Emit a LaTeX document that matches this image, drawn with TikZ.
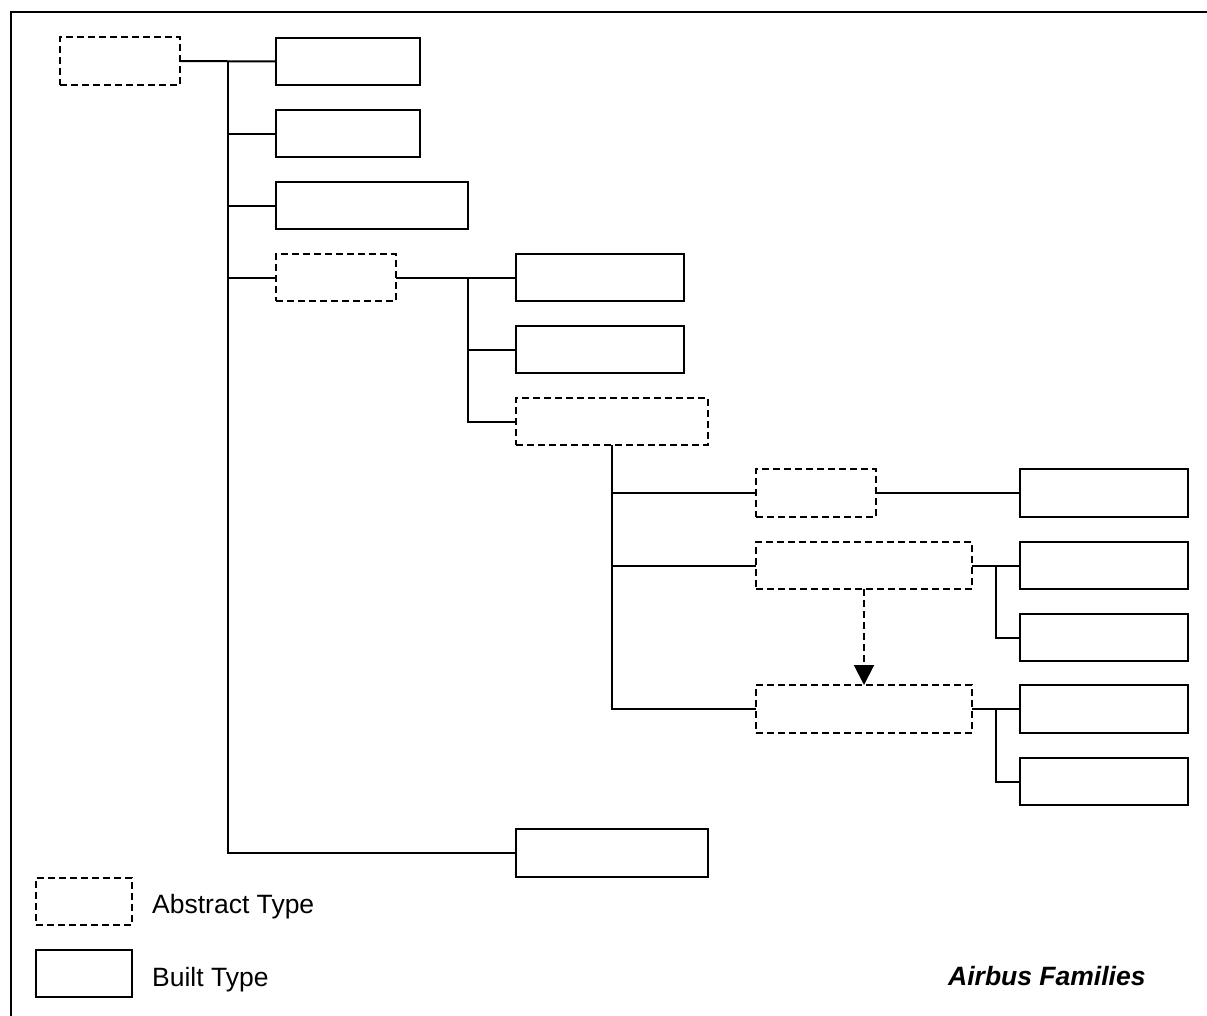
\documentclass[tikz,border=0pt]{standalone}
\usepackage{fontspec}
\setmainfont{Liberation Sans}
\usetikzlibrary{arrows.meta}
\tikzset{
  absbox/.style={draw, dash pattern=on 7pt off 4pt, line width=1.8pt, inner sep=0pt, outer sep=0pt, rectangle},
  bltbox/.style={draw, line width=2pt, inner sep=0pt, outer sep=0pt, rectangle},
  conn/.style={line width=2pt},
  lbl/.style={font=\fontsize{26.5}{31}\selectfont, inner sep=0pt, anchor=base west}
}
\begin{document}
\begin{tikzpicture}[x=1pt,y=-1pt]
\useasboundingbox (0,0) rectangle (1207,1015);
% frame
\draw[line width=2pt] (11,1016) -- (11,12) -- (1208,12);
% nodes
\node[absbox, minimum width=120pt, minimum height=48pt] (root) at (120,61) {};
\node[bltbox, minimum width=144pt, minimum height=47pt] (A1) at (348,61.5) {};
\node[bltbox, minimum width=144pt, minimum height=47pt] (A2) at (348,133.5) {};
\node[bltbox, minimum width=192pt, minimum height=47pt] (A3) at (372,205.5) {};
\node[absbox, minimum width=120pt, minimum height=47pt] (B) at (336,277.5) {};
\node[bltbox, minimum width=168pt, minimum height=47pt] (B1) at (600,277.5) {};
\node[bltbox, minimum width=168pt, minimum height=47pt] (B2) at (600,349.5) {};
\node[absbox, minimum width=192pt, minimum height=47pt] (C) at (612,421.5) {};
\node[absbox, minimum width=120pt, minimum height=48pt] (C1) at (816,493) {};
\node[bltbox, minimum width=168pt, minimum height=48pt] (D1) at (1104,493) {};
\node[absbox, minimum width=216pt, minimum height=47pt] (C2) at (864,565.5) {};
\node[bltbox, minimum width=168pt, minimum height=47pt] (D2) at (1104,565.5) {};
\node[bltbox, minimum width=168pt, minimum height=47pt] (D3) at (1104,637.5) {};
\node[absbox, minimum width=216pt, minimum height=48pt] (C3) at (864,709) {};
\node[bltbox, minimum width=168pt, minimum height=48pt] (D4) at (1104,709) {};
\node[bltbox, minimum width=168pt, minimum height=47pt] (D5) at (1104,781.5) {};
\node[bltbox, minimum width=192pt, minimum height=48pt] (Bot) at (612,853) {};
% legend
\node[absbox, minimum width=96pt, minimum height=47pt] (L1) at (84,901.5) {};
\node[bltbox, minimum width=96pt, minimum height=47pt] (L2) at (84,973.5) {};
\node[lbl] (t1) at (152,913) {Abstract Type};
\node[lbl] (t2) at (152,986) {Built Type};
\node[lbl, font=\fontsize{26.5}{31}\selectfont\bfseries\itshape] (t3) at (948,985) {Airbus Families};
% junctions
\coordinate (j1) at (228,61);
\coordinate (j2) at (468,277.5);
\coordinate (j3) at (996,565.5);
\coordinate (j4) at (996,709);
% connectors
\draw[conn] (root.east) -- (A1.west);
\draw[conn] (j1) -- (j1 |- Bot.west) -- (Bot.west);
\draw[conn] (j1 |- A2.west) -- (A2.west);
\draw[conn] (j1 |- A3.west) -- (A3.west);
\draw[conn] (j1 |- B.west) -- (B.west);
\draw[conn] (B.east) -- (B1.west);
\draw[conn] (j2) -- (j2 |- C.west) -- (C.west);
\draw[conn] (j2 |- B2.west) -- (B2.west);
\draw[conn] (C.south) -- (C.south |- C3.west) -- (C3.west);
\draw[conn] (C.south |- C1.west) -- (C1.west);
\draw[conn] (C.south |- C2.west) -- (C2.west);
\draw[conn] (C1.east) -- (D1.west);
\draw[conn] (C2.east) -- (D2.west);
\draw[conn] (j3) |- (D3.west);
\draw[conn] (C3.east) -- (D4.west);
\draw[conn] (j4) |- (D5.west);
\draw[conn, dash pattern=on 7pt off 4pt, -{Triangle[width=20pt,length=20pt]}] (C2.south) -- (C3.north);
\end{tikzpicture}
\end{document}
